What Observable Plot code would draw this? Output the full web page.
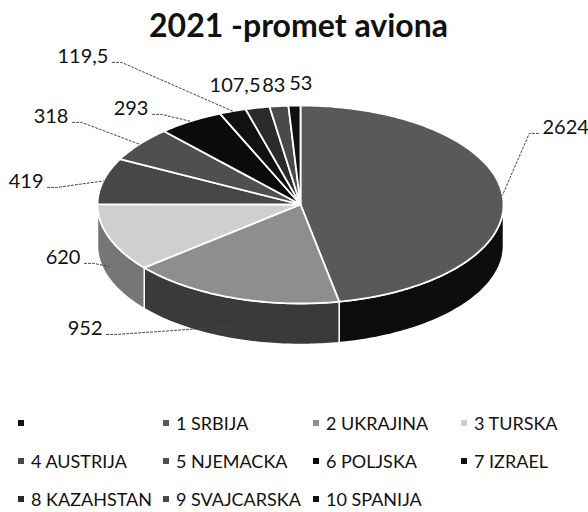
<!DOCTYPE html>
<html><head><meta charset="utf-8">
<script src="https://cdn.jsdelivr.net/npm/d3@7"></script>
<script src="https://cdn.jsdelivr.net/npm/@observablehq/plot@0.6"></script>
<style>
html,body{margin:0;padding:0;background:#fff;overflow:hidden;}
#wrap{width:588px;height:512px;font-family:Lato,"Open Sans",sans-serif;color:#111;}
#title{height:42px;box-sizing:border-box;padding-top:9px;padding-left:9px;line-height:32px;font-size:32px;font-weight:bold;text-align:center;white-space:nowrap;}
#chart svg{display:block;}
#legend{display:grid;grid-template-columns:145px 150px 148px 127px;padding-left:18px;padding-top:26px;}
.item{display:flex;align-items:center;height:38px;font-size:18px;white-space:nowrap;}
.sw{width:6px;height:6px;margin-right:7px;flex:none;}
</style></head>
<body><div id="wrap"><div id="title">2021 -promet aviona</div><div id="chart"></div><div id="legend"></div></div>
<script>
// ---- data ----
const countries = ["1 SRBIJA","2 UKRAJINA","3 TURSKA","4 AUSTRIJA","5 NJEMACKA","6 POLJSKA","7 IZRAEL","8 KAZAHSTAN","9 SVAJCARSKA","10 SPANIJA"];
const values = [2624, 952, 620, 419, 318, 293, 119.5, 107.5, 83, 53];
const legendNames = ["", ...countries];

// ---- styles / layout ----
const topColors  = ["#595959","#8e8e8e","#cfcfcf","#474747","#4f4f4f","#0b0b0b","#111111","#2b2b2b","#4a4a4a","#101010"];
const sideColors = ["#0d0d0d","#3a3a3a","#767676","#222222","#282828","#050505","#080808","#151515","#262626","#080808"];
const legendColors = ["#111111", ...topColors];
// label anchor points in pie units (x: -1..1 across the ellipse, y: -1..1 over the top face)
const labelU = [1.192, -0.975, -1.084, -1.266, -1.143, -0.749, -0.946, -0.197, -0.074, 0.059];
const labelV = [0.778, -1.253, -0.535, 0.232, 0.889, 0.970, 1.495, 1.202, 1.202, 1.222];
const showLeader = [true, true, true, true, true, true, true, false, false, false];
const depth = 0.414;

const arcs = d3.pie().sort(null).value(d => d)(values);
function arcPts(a0, a1, dv) {
  const n = Math.max(2, Math.ceil((a1 - a0) / (Math.PI / 180)));
  const pts = [];
  for (let i = 0; i <= n; i++) {
    const a = a0 + (a1 - a0) * i / n;
    pts.push({u: Math.sin(a), v: Math.cos(a) - dv});
  }
  return pts;
}
const tops = [], sides = [];
arcs.forEach((a, i) => {
  [{u: 0, v: 0}, ...arcPts(a.startAngle, a.endAngle, 0)].forEach(p => tops.push({...p, key: i, c: topColors[i]}));
  const b0 = Math.max(a.startAngle, Math.PI / 2), b1 = Math.min(a.endAngle, 3 * Math.PI / 2);
  if (b1 > b0) {
    [...arcPts(b0, b1, 0), ...arcPts(b0, b1, depth).reverse()].forEach(p => sides.push({...p, key: i, c: sideColors[i]}));
  }
});

const fmt = v => String(v).replace(".", ",");
const labels = values.map((v, i) => ({u: labelU[i], v: labelV[i], t: fmt(v), anchor: labelU[i] > 0.5 ? "start" : "end"}));

// leader lines: short horizontal tail next to the label, then to the slice
const leaders = [];
arcs.forEach((a, i) => {
  if (!showLeader[i]) return;
  const m = (a.startAngle + a.endAngle) / 2;
  const front = Math.cos(m) < -0.2;
  const tu = Math.sin(m), tv = Math.cos(m) - (front ? depth * 0.7 : 0);
  const L = labels[i];
  const sgn = L.anchor === "start" ? -1 : 1;
  const su = L.u + sgn * 0.02, sv = L.v - 0.06;
  const eu = su + sgn * 0.045;
  [{u: su, v: sv}, {u: eu, v: sv}, {u: tu, v: tv}].forEach(p => leaders.push({...p, key: i}));
});

const chart = Plot.plot({
  width: 588, height: 336, margin: 0,
  x: {domain: [-1, 1], range: [97, 503], axis: null},
  y: {domain: [-1, 1], range: [261, 63], axis: null},
  color: {type: "identity"},
  marks: [
    Plot.line(sides, {x: "u", y: "v", z: "key", fill: "c", stroke: "white", strokeWidth: 1.5, curve: "linear-closed"}),
    Plot.line(tops, {x: "u", y: "v", z: "key", fill: "c", stroke: "white", strokeWidth: 1.8, curve: "linear-closed"}),
    Plot.line(leaders, {x: "u", y: "v", z: "key", stroke: "#444", strokeWidth: 1, strokeDasharray: "2,2"}),
    Plot.text(labels.filter(d => d.anchor === "end"), {x: "u", y: "v", text: "t", textAnchor: "end", fontSize: 20, fontFamily: "Lato", fill: "#111"}),
    Plot.text(labels.filter(d => d.anchor === "start"), {x: "u", y: "v", text: "t", textAnchor: "start", fontSize: 20, fontFamily: "Lato", fill: "#111"})
  ]
});
document.getElementById("chart").appendChild(chart);

const lg = document.getElementById("legend");
legendNames.forEach((n, i) => {
  const it = document.createElement("div");
  it.className = "item";
  const sw = document.createElement("span");
  sw.className = "sw";
  sw.style.background = legendColors[i];
  it.appendChild(sw);
  const tx = document.createElement("span");
  tx.textContent = n;
  it.appendChild(tx);
  lg.appendChild(it);
});
</script></body></html>
